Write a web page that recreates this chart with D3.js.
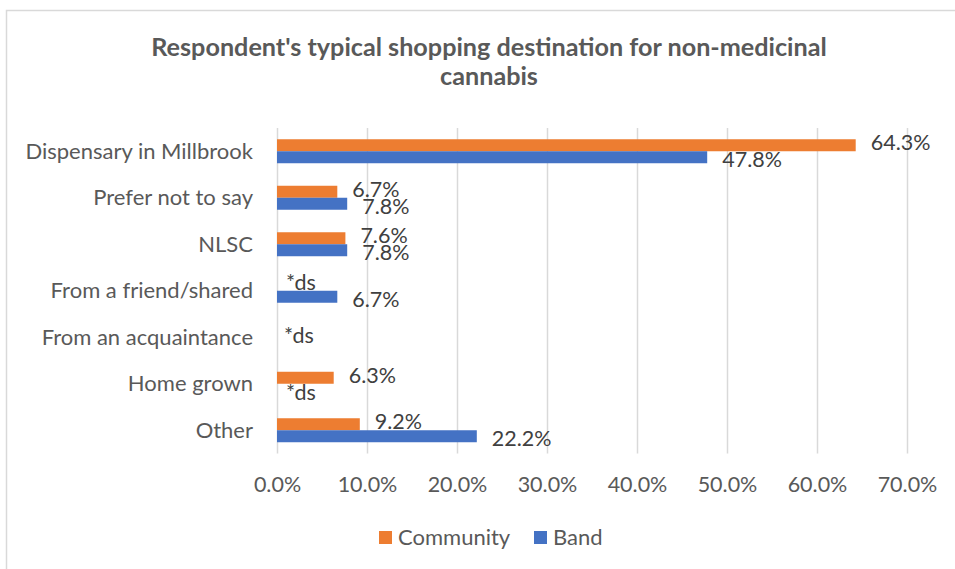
<!DOCTYPE html>
<html>
<head>
<meta charset="utf-8">
<script src="https://cdn.jsdelivr.net/npm/d3@7"></script>
<style>
  html, body { margin: 0; padding: 0; background: #fff; }
  svg { display: block; font-family: Lato, "Open Sans", sans-serif; }
</style>
</head>
<body>
<svg id="chart" width="955" height="569"></svg>
<script>
// Shopping destination categories, top to bottom
const categories = [
  "Dispensary in Millbrook",
  "Prefer not to say",
  "NLSC",
  "From a friend/shared",
  "From an acquaintance",
  "Home grown",
  "Other"
];
// Percent of respondents; null = suppressed (small count)
const communityValues = [64.3, 6.7, 7.6, null, null, 6.3, 9.2];
const bandValues      = [47.8, 7.8, 7.8, 6.7, null, null, 22.2];
const seriesNames  = ["Community", "Band"];
const seriesColors = ["#ED7D31", "#4472C4"];
const tickValues   = [0, 10, 20, 30, 40, 50, 60, 70];
const suppressedText = "*ds";
const titleLines = ["Respondent's typical shopping destination for non-medicinal", "cannabis"];

const svg = d3.select("#chart");
const W = 955, H = 569;
const plot = { left: 277, right: 907, top: 128, bottom: 453.5 };

svg.append("rect").attr("width", W).attr("height", H).attr("fill", "#fff");
// chart frame
svg.append("rect")
  .attr("x", 6.5).attr("y", 10.5)
  .attr("width", W + 10).attr("height", H + 10)
  .attr("fill", "none").attr("stroke", "#d9d9d9").attr("stroke-width", 1.5);

// title
svg.append("text")
  .attr("text-anchor", "middle")
  .attr("font-weight", "bold")
  .attr("font-size", 25.2)
  .attr("fill", "#595959")
  .selectAll("tspan").data(titleLines).join("tspan")
  .attr("x", 489)
  .attr("y", (d, i) => 56 + i * 29)
  .text(d => d);

const x = d3.scaleLinear().domain([0, 70]).range([plot.left, plot.right]);
const y = d3.scaleBand().domain(categories)
  .range([plot.top, plot.bottom])
  .paddingInner(0.484).paddingOuter(0.242);
const ySub = d3.scaleBand().domain(seriesNames).range([0, y.bandwidth()]);

// vertical gridlines + tick labels
const xAxis = d3.axisBottom(x)
  .tickValues(tickValues)
  .tickSize(-(plot.bottom - plot.top))
  .tickPadding(0)
  .tickFormat(d => d.toFixed(1) + "%");
const gx = svg.append("g")
  .attr("transform", `translate(0,${plot.bottom})`)
  .call(xAxis);
gx.select(".domain").remove();
gx.selectAll(".tick line").attr("stroke", "#d9d9d9").attr("stroke-width", 1.5);
gx.selectAll(".tick text")
  .attr("fill", "#595959")
  .attr("font-size", 21.5)
  .attr("font-family", "Lato, sans-serif")
  .attr("dy", null)
  .attr("y", 38.5);

// category labels
svg.append("g").selectAll("text").data(categories).join("text")
  .attr("x", 253)
  .attr("y", d => y(d) + y.bandwidth() / 2)
  .attr("dy", "0.35em")
  .attr("text-anchor", "end")
  .attr("font-size", 22)
  .attr("fill", "#595959")
  .text(d => d);

// bars
const rows = [];
categories.forEach((c, i) => {
  rows.push({ cat: c, series: seriesNames[0], value: communityValues[i], color: seriesColors[0] });
  rows.push({ cat: c, series: seriesNames[1], value: bandValues[i], color: seriesColors[1] });
});

svg.append("g").selectAll("rect").data(rows.filter(d => d.value != null)).join("rect")
  .attr("x", x(0))
  .attr("y", d => y(d.cat) + ySub(d.series))
  .attr("width", d => x(d.value) - x(0))
  .attr("height", ySub.bandwidth())
  .attr("fill", d => d.color);

// value labels; a category with both series suppressed gets one centred label
const labelShift = { Community: -2.5, Band: 2.5 };
const labels = [];
categories.forEach((c, i) => {
  const vals = [communityValues[i], bandValues[i]];
  if (vals.every(v => v == null)) {
    labels.push({ x: x(0) + 7, y: y(c) + y.bandwidth() / 2 - 2, text: suppressedText });
    return;
  }
  seriesNames.forEach((s, j) => {
    const v = vals[j];
    const cy = y(c) + ySub(s) + ySub.bandwidth() / 2 + labelShift[s];
    if (v == null) labels.push({ x: x(0) + 9, y: cy, text: suppressedText });
    else labels.push({ x: x(v) + 15, y: cy, text: v.toFixed(1) + "%" });
  });
});
svg.append("g").selectAll("text").data(labels).join("text")
  .attr("x", d => d.x)
  .attr("y", d => d.y)
  .attr("dy", "0.35em")
  .attr("font-size", 21.5)
  .attr("fill", "#404040")
  .text(d => d.text);

// legend
const legend = svg.append("g");
const legendItems = [
  { name: seriesNames[0], color: seriesColors[0], x: 379 },
  { name: seriesNames[1], color: seriesColors[1], x: 534 }
];
const li = legend.selectAll("g").data(legendItems).join("g")
  .attr("transform", d => `translate(${d.x},531)`);
li.append("rect").attr("width", 13).attr("height", 13).attr("fill", d => d.color);
li.append("text")
  .attr("x", 19).attr("y", 6.5).attr("dy", "0.35em")
  .attr("font-size", 22).attr("fill", "#595959")
  .text(d => d.name);
</script>
</body>
</html>
